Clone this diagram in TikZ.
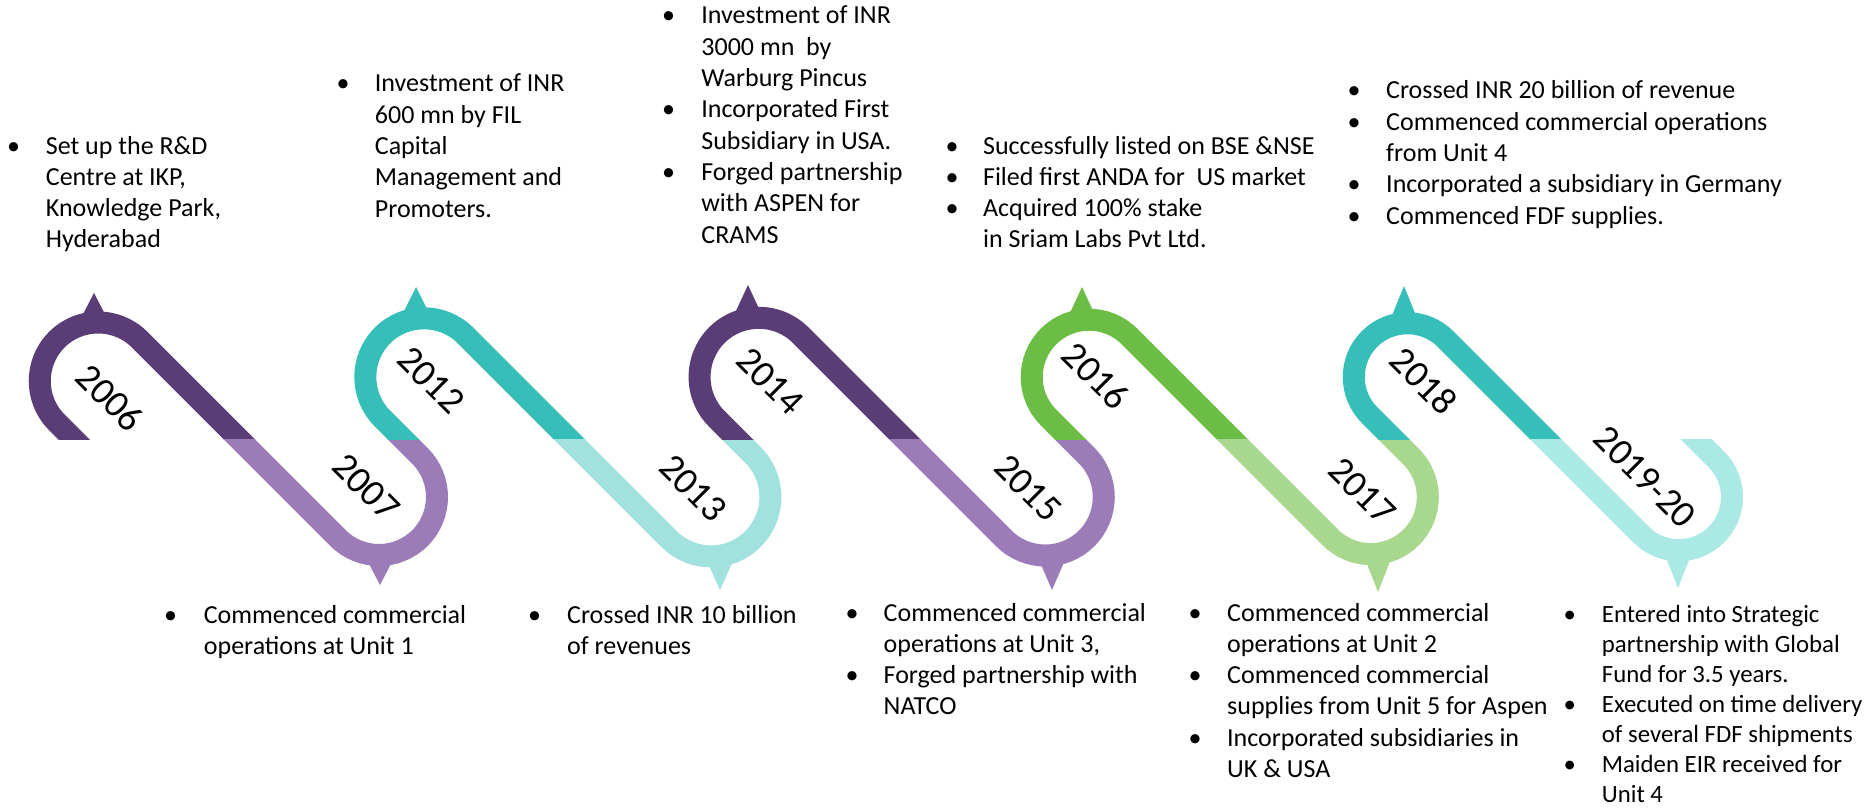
\documentclass[tikz,border=0pt]{standalone}
\usepackage{fontspec}
\setmainfont{Carlito}
\usetikzlibrary{calc}
\definecolor{dpurple}{HTML}{5A3D76}
\definecolor{lpurple}{HTML}{9C7CB8}
\definecolor{teal1}{HTML}{35BFB8}
\definecolor{lteal}{HTML}{A2E2DE}
\definecolor{lteal2}{HTML}{ABE9E5}
\definecolor{green1}{HTML}{6CBD45}
\definecolor{lgreen}{HTML}{A8D78E}
\newcommand\toppiece[4]{%
  \begin{scope}
    \clip (0,0) rectangle (1874,439);
    \draw[track,#4] ($(#1,#2)+(135:#3)+(45,45)$) -- ($(#1,#2)+(135:#3)$)
      arc[start angle=135,end angle=315,radius=#3] -- ++(150,150);
  \end{scope}}
\newcommand\botpiece[4]{%
  \begin{scope}
    \clip (0,439) rectangle (1874,808);
    \draw[track,#4] ($(#1,#2)+(135:#3)+(-150,-150)$) -- ($(#1,#2)+(135:#3)$)
      arc[start angle=135,end angle=-45,radius=#3] -- ++(-70,-70);
  \end{scope}}
\newcommand\bl[2]{\begin{tabular}[t]{@{}p{#1pt}@{}l@{}}#2\end{tabular}}
\begin{document}
\begin{tikzpicture}[x=1pt,y=-1pt,
  track/.style={line width=22pt,line cap=butt},
  yr/.style={font=\fontsize{38}{40}\selectfont,rotate=-45,inner sep=0pt},
  blk/.style={anchor=base west,inner sep=0pt,font=\fontsize{26}{31.3}\selectfont}]
\useasboundingbox[fill=white] (0,0) rectangle (1874,808);
% track pieces
\toppiece{98.25}{381}{58.52}{dpurple}
\botpiece{379}{497}{57.99}{lpurple}
\toppiece{424}{377}{58.69}{teal1}
\botpiece{711}{497}{59.40}{lteal}
\toppiece{758.75}{377}{59.22}{dpurple}
\botpiece{1045.25}{497}{58.52}{lpurple}
\toppiece{1089}{377}{57.28}{green1}
\botpiece{1370.75}{497}{57.10}{lgreen}
\toppiece{1407.5}{377}{53.74}{teal1}
\botpiece{1678.75}{497}{53.21}{lteal2}
% spikes
\fill[dpurple] (81,318) -- (94,293) -- (107,318) -- cycle;
\fill[teal1] (403,313) -- (416,287) -- (429,313) -- cycle;
\fill[dpurple] (735,313) -- (748,285) -- (761,313) -- cycle;
\fill[green1] (1069,315) -- (1082,287) -- (1095,315) -- cycle;
\fill[teal1] (1391,318) -- (1404,286) -- (1417,318) -- cycle;
\fill[lpurple] (367,560) -- (380,585) -- (393,560) -- cycle;
\fill[lteal] (707,561) -- (720,590) -- (733,561) -- cycle;
\fill[lpurple] (1039,560) -- (1052,590) -- (1065,560) -- cycle;
\fill[lgreen] (1365,559) -- (1378,592) -- (1391,559) -- cycle;
\fill[lteal2] (1665,555) -- (1678,588) -- (1691,555) -- cycle;
% years
\node[yr] (y2006) at (110,398) {2006};
\node[yr] (y2007) at (366,487) {2007};
\node[yr] (y2012) at (431,380) {2012};
\node[yr] (y2013) at (693,488) {2013};
\node[yr] (y2014) at (770,381) {2014};
\node[yr] (y2015) at (1028,488) {2015};
\node[yr] (y2016) at (1096,376) {2016};
\node[yr] (y2017) at (1362,491) {2017};
\node[yr] (y2018) at (1424,381) {2018};
\node[yr] (y2019) at (1645,477) {2019-20};
% text blocks
\node[blk] (t2006) at (7,154) {\bl{38.7}{\textbullet & Set up the R\&D\\ & Centre at IKP,\\ & Knowledge Park,\\ & Hyderabad}};
\node[blk] (t2012) at (336.5,92) {\bl{38.2}{\textbullet & Investment of INR\\ & 600 mn by FIL\\ & Capital\\ & Management and\\ & Promoters.}};
\node[blk] (t2014) at (662,24) {\bl{39.2}{\textbullet & Investment of INR\\ & 3000 mn\ \ by\\ & Warburg Pincus\\ \textbullet & Incorporated First\\ & Subsidiary in USA.\\ \textbullet & Forged partnership\\ & with ASPEN for\\ & CRAMS}};
\node[blk] (t2016) at (945.5,154) {\bl{37.4}{\textbullet & Successfully listed on BSE \&NSE\\ \textbullet & Filed first ANDA for\ \ US market\\ \textbullet & Acquired 100\% stake\\ & in Sriam Labs Pvt Ltd.}};
\node[blk] (t2018) at (1347.4,99) {\bl{38.6}{\textbullet & Crossed INR 20 billion of revenue\\ \textbullet & Commenced commercial operations\\ & from Unit 4\\ \textbullet & Incorporated a subsidiary in Germany\\ \textbullet & Commenced FDF supplies.}};
\node[blk] (t2007) at (164,623) {\bl{39.7}{\textbullet & Commenced commercial\\ & operations at Unit 1}};
\node[blk] (t2013) at (528,623) {\bl{39}{\textbullet & Crossed INR 10 billion\\ & of revenues}};
\node[blk] (t2015) at (845.5,621) {\bl{38}{\textbullet & Commenced commercial\\ & operations at Unit 3,\\ \textbullet & Forged partnership with\\ & NATCO}};
\node[blk] (t2017) at (1188.5,621) {\bl{38.5}{\textbullet & Commenced commercial\\ & operations at Unit 2\\ \textbullet & Commenced commercial\\ & supplies from Unit 5 for Aspen\\ \textbullet & Incorporated subsidiaries in\\ & UK \& USA}};
\node[blk,font=\fontsize{24.8}{30}\selectfont] (t2019) at (1563.5,622.7) {\bl{38.2}{\textbullet & Entered into Strategic\\ & partnership with Global\\ & Fund for 3.5 years.\\ \textbullet & Executed on time delivery\\ & of several FDF shipments\\ \textbullet & Maiden EIR received for\\ & Unit 4}};
\end{tikzpicture}
\end{document}
